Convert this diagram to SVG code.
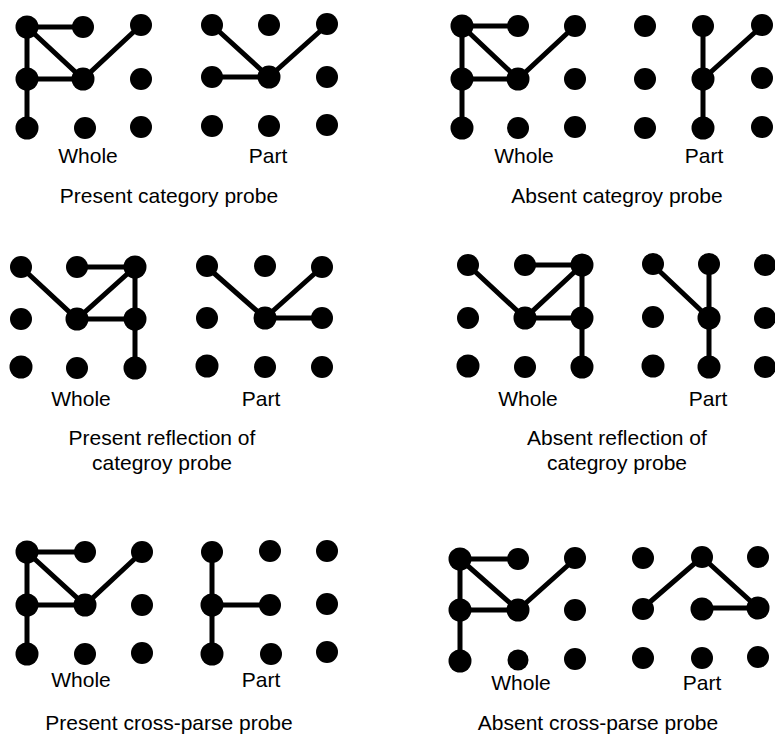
<svg xmlns="http://www.w3.org/2000/svg" width="775" height="735" viewBox="0 0 775 735">
<style>
.d{fill:#000}
.e{stroke:#000;stroke-width:5;fill:none;stroke-linecap:round}
.t{font-family:"Liberation Sans",Arial,sans-serif;font-size:21px;fill:#000;text-anchor:middle}
</style>
<rect width="775" height="735" fill="#fff"/>
<g id="connectors" class="e">
  <path d="M27,27H83M27,27V128M27,79H83M27,27L83,79L141,25"/>
  <path d="M212,25L269,77L327,25M212,77H269"/>
  <path d="M462,26H518M462,26V128M462,79H518M462,26L518,79L575,26"/>
  <path d="M703,26V128M703,79L762,26"/>
  <path d="M21,267L77,319L135,267M77,267H135M77,319H135M135,267V368"/>
  <path d="M207,267L265,318L322,267M265,318H322"/>
  <path d="M468,265L525,318L582,265M525,265H582M525,318H582M582,265V367"/>
  <path d="M653,265L709,318M709,265V367"/>
  <path d="M27,552H85M27,552V653M27,605H85M27,552L85,605L142,552"/>
  <path d="M212,552V653M212,605H270"/>
  <path d="M460,559H518M460,559V660M460,610H518M460,559L518,610L575,559"/>
  <path d="M643,608L702,557L758,608H702"/>
</g>
<g id="p1-whole" class="d">
  <circle cx="27" cy="27" r="11.5"/><circle cx="83" cy="27" r="11"/><circle cx="141" cy="25" r="11"/>
  <circle cx="27" cy="79" r="11.5"/><circle cx="83" cy="79" r="11.5"/><circle cx="141" cy="79" r="11"/>
  <circle cx="27" cy="128" r="11.5"/><circle cx="85" cy="128" r="11"/><circle cx="141" cy="127" r="11"/>
</g>
<g id="p1-part" class="d">
  <circle cx="212" cy="25" r="11"/><circle cx="269" cy="25" r="11"/><circle cx="327" cy="24" r="11"/>
  <circle cx="212" cy="77" r="11"/><circle cx="269" cy="77" r="11.5"/><circle cx="327" cy="77" r="11"/>
  <circle cx="212" cy="126" r="11"/><circle cx="269" cy="126" r="11"/><circle cx="327" cy="125" r="11"/>
</g>
<g id="p2-whole" class="d">
  <circle cx="462" cy="26" r="11.5"/><circle cx="518" cy="26" r="11"/><circle cx="575" cy="26" r="11"/>
  <circle cx="462" cy="79" r="11.5"/><circle cx="518" cy="79" r="11.5"/><circle cx="575" cy="79" r="11"/>
  <circle cx="462" cy="128" r="11.5"/><circle cx="518" cy="128" r="11"/><circle cx="575" cy="127" r="11"/>
</g>
<g id="p2-part" class="d">
  <circle cx="645" cy="26" r="11"/><circle cx="703" cy="26" r="11"/><circle cx="762" cy="25" r="11"/>
  <circle cx="645" cy="79" r="11"/><circle cx="703" cy="79" r="11.5"/><circle cx="762" cy="78" r="11"/>
  <circle cx="645" cy="128" r="11"/><circle cx="703" cy="128" r="11.5"/><circle cx="762" cy="127" r="11"/>
</g>
<g id="p3-whole" class="d">
  <circle cx="21" cy="267" r="11"/><circle cx="77" cy="267" r="11"/><circle cx="135" cy="267" r="11.5"/>
  <circle cx="21" cy="319" r="11"/><circle cx="77" cy="319" r="11.5"/><circle cx="135" cy="319" r="11.5"/>
  <circle cx="21" cy="367" r="11.5"/><circle cx="77" cy="368" r="11"/><circle cx="135" cy="368" r="11.5"/>
</g>
<g id="p3-part" class="d">
  <circle cx="207" cy="266" r="11"/><circle cx="265" cy="266" r="11"/><circle cx="322" cy="267" r="11"/>
  <circle cx="207" cy="318" r="11"/><circle cx="265" cy="318" r="11.5"/><circle cx="322" cy="318" r="11"/>
  <circle cx="207" cy="366" r="11.5"/><circle cx="265" cy="367" r="11"/><circle cx="322" cy="367" r="11"/>
</g>
<g id="p4-whole" class="d">
  <circle cx="468" cy="265" r="11"/><circle cx="525" cy="265" r="11"/><circle cx="582" cy="265" r="11.5"/>
  <circle cx="468" cy="318" r="11"/><circle cx="525" cy="318" r="11.5"/><circle cx="582" cy="318" r="11.5"/>
  <circle cx="468" cy="366" r="11.5"/><circle cx="525" cy="367" r="11"/><circle cx="582" cy="367" r="11.5"/>
</g>
<g id="p4-part" class="d">
  <circle cx="653" cy="264" r="11"/><circle cx="709" cy="264" r="11"/><circle cx="765" cy="265" r="11"/>
  <circle cx="653" cy="317" r="11"/><circle cx="709" cy="318" r="11.5"/><circle cx="765" cy="318" r="11"/>
  <circle cx="653" cy="366" r="11.5"/><circle cx="709" cy="367" r="11.5"/><circle cx="765" cy="367" r="11"/>
</g>
<g id="p5-whole" class="d">
  <circle cx="27" cy="552" r="11.5"/><circle cx="85" cy="552" r="11"/><circle cx="142" cy="552" r="11"/>
  <circle cx="27" cy="605" r="11.5"/><circle cx="85" cy="605" r="11.5"/><circle cx="142" cy="605" r="11"/>
  <circle cx="27" cy="654" r="11.5"/><circle cx="85" cy="654" r="11"/><circle cx="142" cy="653" r="11"/>
</g>
<g id="p5-part" class="d">
  <circle cx="212" cy="552" r="11"/><circle cx="270" cy="551" r="11"/><circle cx="327" cy="551" r="11"/>
  <circle cx="212" cy="605" r="11.5"/><circle cx="270" cy="605" r="11"/><circle cx="327" cy="604" r="11"/>
  <circle cx="212" cy="654" r="11.5"/><circle cx="271" cy="654" r="11"/><circle cx="327" cy="652" r="11"/>
</g>
<g id="p6-whole" class="d">
  <circle cx="460" cy="559" r="11.5"/><circle cx="518" cy="559" r="11"/><circle cx="575" cy="558" r="11"/>
  <circle cx="460" cy="610" r="11.5"/><circle cx="518" cy="610" r="11.5"/><circle cx="575" cy="610" r="11"/>
  <circle cx="460" cy="661" r="11.5"/><circle cx="518" cy="660" r="10.5"/><circle cx="575" cy="659" r="11"/>
</g>
<g id="p6-part" class="d">
  <circle cx="643" cy="558" r="11"/><circle cx="702" cy="557" r="11"/><circle cx="758" cy="557" r="11"/>
  <circle cx="643" cy="609" r="11"/><circle cx="702" cy="609" r="11.5"/><circle cx="758" cy="608" r="11.5"/>
  <circle cx="643" cy="658" r="11"/><circle cx="702" cy="658" r="11"/><circle cx="758" cy="657" r="11"/>
</g>
<g id="labels" class="t">
  <text x="88" y="163">Whole</text>
  <text x="268" y="163">Part</text>
  <text x="169" y="203">Present category probe</text>
  <text x="524" y="163">Whole</text>
  <text x="704" y="163">Part</text>
  <text x="617" y="203">Absent categroy probe</text>
  <text x="81" y="406">Whole</text>
  <text x="261" y="406">Part</text>
  <text x="162" y="445">Present reflection of</text>
  <text x="162" y="470">categroy probe</text>
  <text x="528" y="406">Whole</text>
  <text x="708" y="406">Part</text>
  <text x="617" y="445">Absent reflection of</text>
  <text x="617" y="470">categroy probe</text>
  <text x="81" y="687">Whole</text>
  <text x="261" y="687">Part</text>
  <text x="169" y="730">Present cross-parse probe</text>
  <text x="521" y="690">Whole</text>
  <text x="702" y="690">Part</text>
  <text x="598" y="730">Absent cross-parse probe</text>
</g>
</svg>
